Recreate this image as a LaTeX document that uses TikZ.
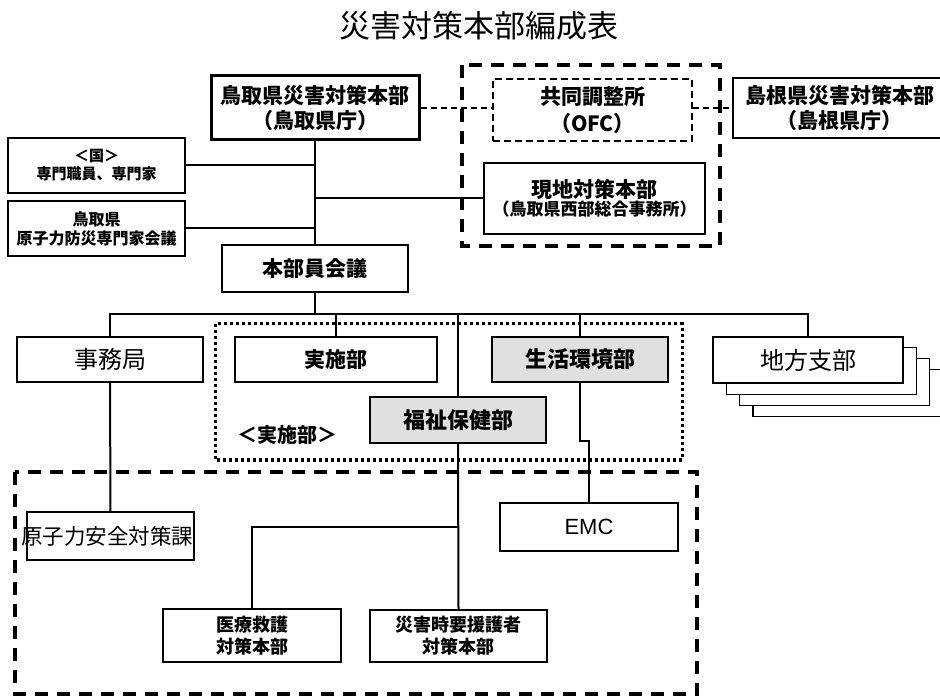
\documentclass[tikz,border=0pt]{standalone}
\usepackage{fontspec}
\setmainfont{Noto Sans CJK JP}
\newfontfamily\emcfont{Liberation Sans}
\usetikzlibrary{calc}

\begin{document}
\begin{tikzpicture}[x=1pt,y=-1pt,
    box/.style={draw,line width=1.8pt,fill=white,inner sep=0pt,align=center},
    grybox/.style={box,fill=black!12},
    link/.style={line width=2pt},
    dlink/.style={line width=1.8pt,dash pattern=on 6pt off 4pt},
    grpdash/.style={line width=3.4pt,dash pattern=on 13pt off 9pt},
    grpdot/.style={line width=3pt,dash pattern=on 3pt off 3pt}]
  \useasboundingbox (0,0) rectangle (940,700);
  \clip (0,0) rectangle (940,700);
  \fill[white] (0,0) rectangle (940,700);

  \node[font=\fontsize{31}{31}\selectfont] (title) at (479,26) {災害対策本部編成表};

  % グループ枠
  \draw[grpdash] (462,65) rectangle (720,246);
  \draw[grpdot] (215,324) rectangle (682,460);
  \draw[grpdash] (15,472) rectangle (697,694);

  % 上段
  \node[box,line width=3pt,minimum width=208pt,minimum height=64pt,font=\fontsize{21}{25}\selectfont\bfseries] (tottori) at (315,108) {鳥取県災害対策本部\\（鳥取県庁）};
  \node[box,dash pattern=on 7pt off 4pt,minimum width=199pt,minimum height=62pt,font=\fontsize{21}{27}\selectfont\bfseries] (ofc) at (592.5,110) {共同調整所\\（OFC）};
  \node[box,minimum width=213pt,minimum height=60pt,font=\fontsize{21}{25}\selectfont\bfseries] (shimane) at (839.5,108) {島根県災害対策本部\\（島根県庁）};
  \node[box,minimum width=221pt,minimum height=71pt,font=\bfseries] (genchi) at (594.5,198.5) {{\fontsize{21}{29}\selectfont 現地対策本部}\\{\fontsize{17}{29}\selectfont （鳥取県西部総合事務所）}};
  \node[box,minimum width=177pt,minimum height=55pt,font=\fontsize{15}{18}\selectfont\bfseries] (kuni) at (96.5,165.5) {＜国＞\\専門職員、専門家};
  \node[box,minimum width=177pt,minimum height=55pt,font=\fontsize{16}{19}\selectfont\bfseries] (senmon) at (96.5,228.5) {鳥取県\\原子力防災専門家会議};
  \node[box,minimum width=186pt,minimum height=47pt,font=\fontsize{21}{25}\selectfont\bfseries] (kaigi) at (315,268.5) {本部員会議};

  % 中段
  \node[box,minimum width=186pt,minimum height=45pt,font=\fontsize{24}{28}\selectfont] (jimu) at (110,359.5) {事務局};
  \node[box,minimum width=202pt,minimum height=45pt,font=\fontsize{21}{25}\selectfont\bfseries] (jisshi) at (336,359.5) {実施部};
  \node[grybox,minimum width=176pt,minimum height=45pt,font=\fontsize{22}{26}\selectfont\bfseries] (seikatsu) at (580,359.5) {生活環境部};
  \foreach \k in {3,2,1}
    \node[box,line width=1.5pt,minimum width=190pt,minimum height=47pt] (chiho\k) at (808+\k*13.3,360+\k*11) {};
  \node[box,minimum width=190pt,minimum height=46pt,font=\fontsize{24}{28}\selectfont] (chiho) at (808,360) {地方支部};
  \node[grybox,minimum width=176pt,minimum height=46pt,font=\fontsize{22}{26}\selectfont\bfseries] (fukushi) at (458,420) {福祉保健部};
  \node[font=\fontsize{20}{24}\selectfont\bfseries] (jisshilbl) at (287,435) {＜実施部＞};

  % 下段
  \node[box,minimum width=167pt,minimum height=48pt] (genshi) at (110.5,536) {};
  \node[font=\fontsize{21.5}{25}\selectfont] (genshitxt) at (107,536) {原子力安全対策課};
  \node[box,minimum width=178pt,minimum height=48pt,font=\emcfont\fontsize{22}{26}\selectfont] (emc) at (589,527) {EMC};
  \node[box,minimum width=178pt,minimum height=53pt,font=\fontsize{18}{22}\selectfont\bfseries] (iryo) at (252,635.5) {医療救護\\対策本部};
  \node[box,minimum width=177pt,minimum height=52pt,font=\fontsize{18}{22}\selectfont\bfseries] (yoengo) at (458.5,636) {災害時要援護者\\対策本部};

  % 接続線
  \coordinate (bus) at (0,314);
  \coordinate (fork) at (458,527);
  \draw[link] (tottori.south) -- (kaigi.north);
  \draw[link] (kuni.east) -- (kuni.east -| kaigi.north);
  \draw[link] (senmon.east) -- (senmon.east -| kaigi.north);
  \draw[link] (genchi.west -| kaigi.north) -- (genchi.west);
  \draw[dlink] (tottori.east) -- (tottori.east -| ofc.west);
  \draw[dlink] (ofc.east |- shimane.west) -- (shimane.west);
  \draw[link] (kaigi.south) -- (kaigi.south |- bus);
  \draw[link] (jimu.north) -- (jimu.north |- bus) -- (chiho.north |- bus) -- (chiho.north);
  \foreach \n in {jisshi,seikatsu,fukushi}
    \draw[link] (\n.north |- bus) -- (\n.north);
  \draw[link] (jimu.south) -- (genshi.north);
  \draw[link] (seikatsu.south) -- ++(0,58) -| (emc.north);
  \draw[link] (fukushi.south) -- (yoengo.north);
  \draw[link] (fork) -| (iryo.north);
\end{tikzpicture}
\end{document}
